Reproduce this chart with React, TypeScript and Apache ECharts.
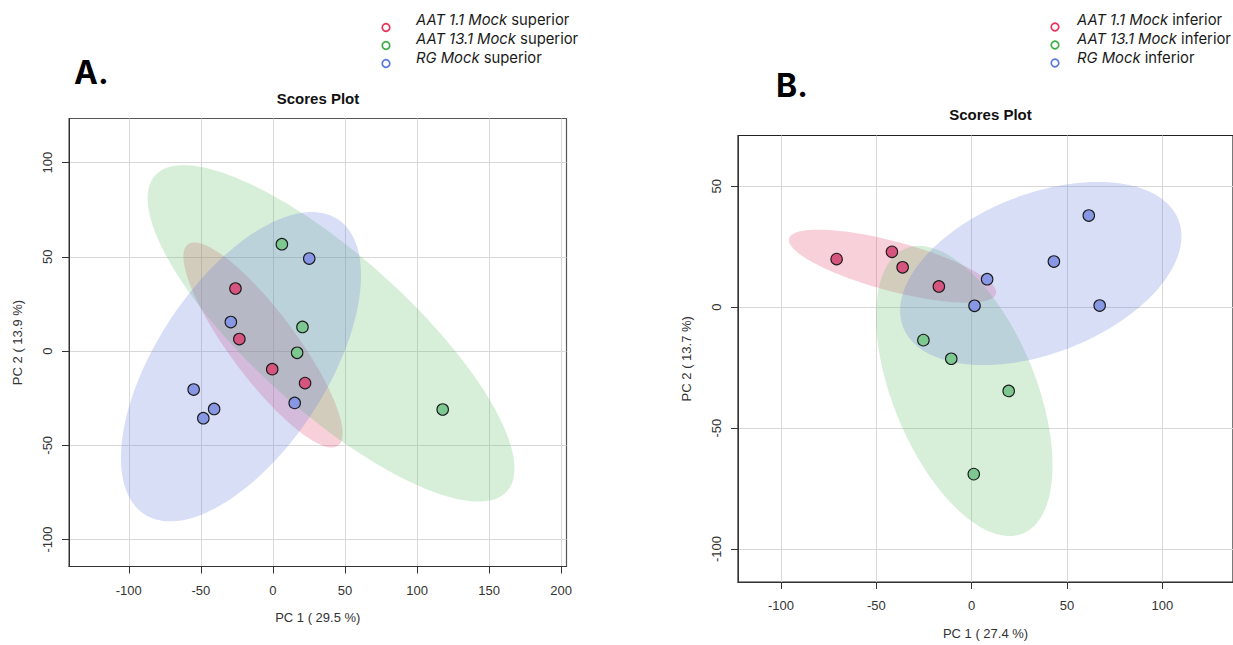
import React, { useEffect, useRef } from "react";
import * as echarts from "echarts";

// ---- data ----
const groupsA = ["AAT 1.1 Mock superior", "AAT 13.1 Mock superior", "RG Mock superior"];
const groupsB = ["AAT 1.1 Mock inferior", "AAT 13.1 Mock inferior", "RG Mock inferior"];

const aRed = [[-26, 33.2], [-23.3, 6.4], [-0.5, -9.6], [22.3, -17]];
const aGreen = [[6.2, 56.7], [20.5, 12.8], [16.8, -0.9], [117.8, -31]];
const aBlue = [[25.2, 49.1], [-29.2, 15.4], [-55, -20.4], [-40.8, -30.7], [-48.3, -35.6], [15.1, -27.5]];

const bRed = [[-70.8, 19.9], [-41.8, 22.9], [-36.2, 16.5], [-17.2, 8.6]];
const bGreen = [[-25.3, -13.6], [-10.7, -21.3], [19.4, -34.6], [1.1, -69]];
const bBlue = [[61.4, 37.9], [43.1, 18.9], [8.1, 11.6], [1.5, 0.6], [67.1, 0.7]];

const aXTicks = [-100, -50, 0, 50, 100, 150, 200];
const aYTicks = [-100, -50, 0, 50, 100];
const bXTicks = [-100, -50, 0, 50, 100];
const bYTicks = [-100, -50, 0, 50];

const aXRange = [-141.5, 203.7];
const aYRange = [-114.3, 123.4];
const bXRange = [-122.5, 137];
const bYRange = [-113.6, 71];

// ---- styling ----
const POINT = ["#d6557f", "#7cc890", "#8797e3"];
const FILL = ["rgba(227,67,107,0.25)", "rgba(95,191,103,0.25)", "rgba(103,123,223,0.25)"];
const LEGEND = ["#e8325a", "#3cb043", "#5a78e0"];
const LABEL_FONT = "'Liberation Sans', Arial, sans-serif";
const LEG_FONT = "Inter, 'Noto Sans', sans-serif";

// 95% confidence ellipse of the group (as in MetaboAnalyst score plots)
function ellipseParams(pts: number[][]) {
  const n = pts.length;
  const cx = pts.reduce((s, p) => s + p[0], 0) / n;
  const cy = pts.reduce((s, p) => s + p[1], 0) / n;
  let sxx = 0, syy = 0, sxy = 0;
  pts.forEach((p) => {
    const dx = p[0] - cx, dy = p[1] - cy;
    sxx += dx * dx; syy += dy * dy; sxy += dx * dy;
  });
  sxx /= n - 1; syy /= n - 1; sxy /= n - 1;
  const tr = sxx + syy;
  const det = sxx * syy - sxy * sxy;
  const disc = Math.sqrt(Math.max(0, (tr * tr) / 4 - det));
  const l1 = tr / 2 + disc, l2 = tr / 2 - disc;
  const th = Math.atan2(l1 - sxx, sxy);
  const t = Math.sqrt(5.991464547);
  return { cx, cy, a: t * Math.sqrt(l1), b: t * Math.sqrt(Math.max(l2, 0)), th };
}

function ellipseSeries(pts: number[][], color: string, axis: number) {
  const e = ellipseParams(pts);
  return {
    type: "custom",
    xAxisIndex: axis,
    yAxisIndex: axis,
    data: [[e.cx, e.cy]],
    clip: true,
    silent: true,
    z: 1,
    renderItem: (_params: any, api: any) => {
      const points: number[][] = [];
      const N = 160;
      for (let i = 0; i < N; i++) {
        const t = (i / N) * Math.PI * 2;
        const u = e.a * Math.cos(t), v = e.b * Math.sin(t);
        const x = e.cx + u * Math.cos(e.th) - v * Math.sin(e.th);
        const y = e.cy + u * Math.sin(e.th) + v * Math.cos(e.th);
        points.push(api.coord([x, y]));
      }
      return { type: "polygon", shape: { points }, style: { fill: color } };
    },
  };
}

function scatterSeries(name: string, pts: number[][], color: string, axis: number) {
  return {
    type: "scatter",
    name,
    xAxisIndex: axis,
    yAxisIndex: axis,
    data: pts,
    symbol: "circle",
    symbolSize: 11.5,
    itemStyle: { color, borderColor: "#1a1a1a", borderWidth: 1.1, opacity: 1 },
    z: 3,
  };
}

function xAxis(range: number[], ticks: number[], grid: number, name: string, gap: number) {
  return {
    type: "value",
    gridIndex: grid,
    min: range[0],
    max: range[1],
    name,
    nameLocation: "middle",
    nameGap: gap,
    nameTextStyle: { color: "#333", fontSize: 13, fontFamily: LABEL_FONT },
    axisLine: { show: true, onZero: false, lineStyle: { color: "#333", width: 1 } },
    axisTick: { show: true, length: 7, customValues: ticks, lineStyle: { color: "#333" } },
    axisLabel: { customValues: ticks, color: "#333", fontSize: 13, fontFamily: LABEL_FONT, margin: 17 },
    splitLine: { show: true, lineStyle: { color: "#d8d8d8", width: 1 } },
  };
}

function yAxis(range: number[], ticks: number[], grid: number, name: string, gap: number) {
  return {
    type: "value",
    gridIndex: grid,
    min: range[0],
    max: range[1],
    name,
    nameLocation: "middle",
    nameRotate: 90,
    nameGap: gap,
    nameTextStyle: { color: "#333", fontSize: 13, fontFamily: LABEL_FONT },
    axisLine: { show: true, onZero: false, lineStyle: { color: "#333", width: 1 } },
    axisTick: { show: true, length: 7, customValues: ticks, lineStyle: { color: "#333" } },
    axisLabel: { customValues: ticks, color: "#333", fontSize: 13, fontFamily: LABEL_FONT, margin: 15, rotate: 90 },
    splitLine: { show: true, lineStyle: { color: "#d8d8d8", width: 1 } },
  };
}

function legendGraphics(names: string[], suffix: string, cx: number, tx: number, circleY: number[], textY: number[]) {
  const out: any[] = [];
  names.forEach((n, i) => {
    const main = n.replace(" " + suffix, "");
    out.push({
      type: "circle",
      shape: { cx, cy: circleY[i], r: 3.8 },
      style: { fill: "#fff", stroke: LEGEND[i], lineWidth: 1.7 },
    });
    out.push({
      type: "text",
      x: tx,
      y: textY[i],
      style: {
        text: "{i|" + main + "} " + suffix,
        fontSize: 14.8,
        fontFamily: LEG_FONT,
        fill: "#1a1a1a",
        verticalAlign: "middle",
        align: "left",
        rich: { i: { fontStyle: "italic", fontSize: 14.8, fontFamily: LEG_FONT, fill: "#1a1a1a" } },
      },
    });
  });
  return out;
}

export default function App() {
  const ref = useRef<HTMLDivElement>(null);
  useEffect(() => {
    if (!ref.current) return;
    const chart = echarts.init(ref.current, undefined, { renderer: "svg" });
    const option: any = {
      animation: false,
      backgroundColor: "#ffffff",
      grid: [
        { left: 69, top: 118.5, width: 497.5, height: 448, show: true, borderColor: "#555", borderWidth: 1.2, backgroundColor: "transparent" },
        { left: 738, top: 135.5, width: 504, height: 452.5, show: true, borderColor: "#222", borderWidth: 1.2, backgroundColor: "transparent" },
      ],
      xAxis: [
        xAxis(aXRange, aXTicks, 0, "PC 1 ( 29.5 %)", 44),
        xAxis(bXRange, bXTicks, 1, "PC 1 ( 27.4 %)", 45),
      ],
      yAxis: [
        yAxis(aYRange, aYTicks, 0, "PC 2 ( 13.9 %)", 45),
        yAxis(bYRange, bYTicks, 1, "PC 2 ( 13.7 %)", 45),
      ],
      series: [
        ellipseSeries(aRed, FILL[0], 0),
        ellipseSeries(aGreen, FILL[1], 0),
        ellipseSeries(aBlue, FILL[2], 0),
        ellipseSeries(bRed, FILL[0], 1),
        ellipseSeries(bGreen, FILL[1], 1),
        ellipseSeries(bBlue, FILL[2], 1),
        scatterSeries(groupsA[0], aRed, POINT[0], 0),
        scatterSeries(groupsA[1], aGreen, POINT[1], 0),
        scatterSeries(groupsA[2], aBlue, POINT[2], 0),
        scatterSeries(groupsB[0], bRed, POINT[0], 1),
        scatterSeries(groupsB[1], bGreen, POINT[1], 1),
        scatterSeries(groupsB[2], bBlue, POINT[2], 1),
      ],
      graphic: [
        {
          type: "text", x: 318, y: 98,
          style: { text: "Scores Plot", fontSize: 15, fontWeight: "bold", fontFamily: LABEL_FONT, fill: "#111", align: "center", verticalAlign: "middle" },
        },
        {
          type: "text", x: 990.5, y: 114.5,
          style: { text: "Scores Plot", fontSize: 15, fontWeight: "bold", fontFamily: LABEL_FONT, fill: "#111", align: "center", verticalAlign: "middle" },
        },
        {
          type: "text", x: 74, y: 72,
          style: { text: "A.", fontSize: 32, fontWeight: "bold", fontFamily: LEG_FONT, fill: "#000", align: "left", verticalAlign: "middle" },
        },
        {
          type: "text", x: 776, y: 85,
          style: { text: "B.", fontSize: 32, fontWeight: "bold", fontFamily: LEG_FONT, fill: "#000", align: "left", verticalAlign: "middle" },
        },
        ...legendGraphics(groupsA, "superior", 386, 416, [27.5, 45.5, 63.5], [20, 39, 58]),
        ...legendGraphics(groupsB, "inferior", 1055, 1077, [27, 45, 63], [20, 39, 58]),
      ],
    };
    chart.setOption(option);
    return () => chart.dispose();
  }, []);
  return (
    <div style={{ position: "absolute", left: 0, top: 0, width: 1233, height: 645, overflow: "hidden", background: "#fff" }}>
      <div ref={ref} style={{ width: 1233, height: 645 }} />
    </div>
  );
}
